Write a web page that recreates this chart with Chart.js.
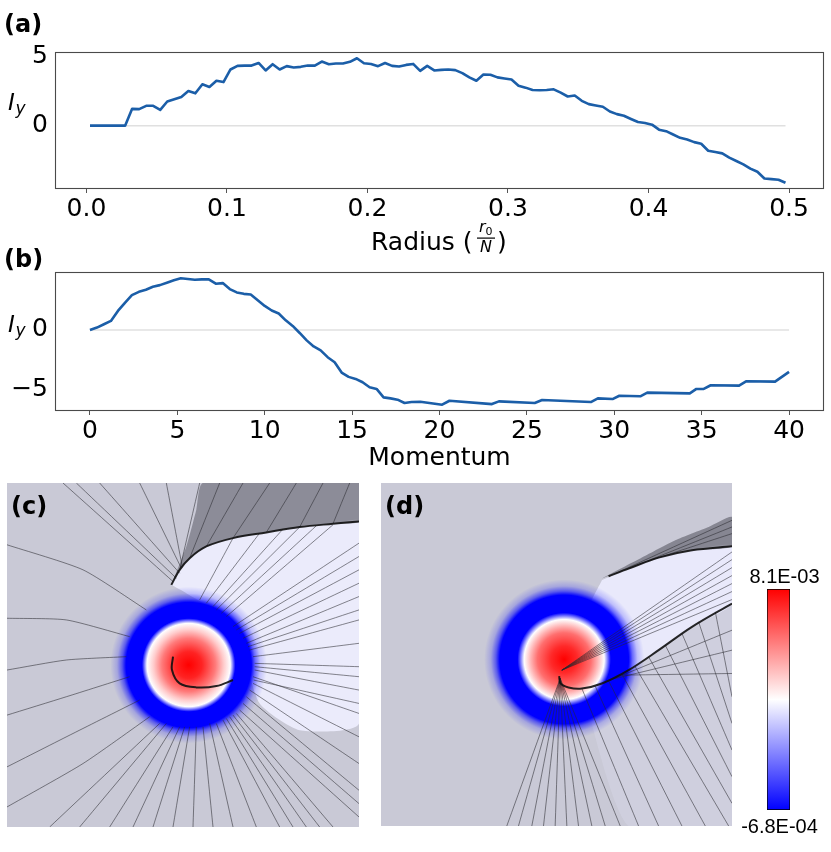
<!DOCTYPE html>
<html><head><meta charset="utf-8">
<script src="https://cdn.jsdelivr.net/npm/chart.js@4.4.1/dist/chart.umd.min.js"></script>
<style>
html,body{margin:0;padding:0;background:#fff;width:831px;height:852px;overflow:hidden;}
canvas{position:absolute;display:block;}
</style></head><body>
<canvas id="ca" width="831" height="262" style="left:0;top:0"></canvas>
<canvas id="cb" width="831" height="244" style="left:0;top:236px"></canvas>
<canvas id="cc" width="352" height="344" style="left:7px;top:483px"></canvas>
<canvas id="cd" width="351" height="343" style="left:381px;top:483px"></canvas>
<canvas id="ce" width="101" height="305" style="left:730px;top:540px"></canvas>
<script>
// ---------- panel (a): I_y vs radius ----------
const radiusX = [0.0025,0.0275,0.0325,0.0375,0.0425,0.0475,0.0525,0.0575,0.0625,0.0675,0.0725,0.0775,0.0825,0.0875,0.0925,0.0975,
0.1025,0.1075,0.1125,0.1175,0.1225,0.1275,0.1325,0.1375,0.1425,0.1475,0.1525,0.1575,0.1625,0.1675,0.1725,0.1775,0.1825,0.1875,0.1925,0.1975,
0.2025,0.2075,0.2125,0.2175,0.2225,0.2275,0.2325,0.2375,0.2425,0.2475,0.2525,0.2575,0.2625,0.2675,0.2725,0.2775,0.2825,0.2875,0.2925,0.2975,
0.3025,0.3075,0.3125,0.3175,0.3225,0.3275,0.3325,0.3375,0.3425,0.3475,0.3525,0.3575,0.3625,0.3675,0.3725,0.3775,0.3825,0.3875,0.3925,0.3975,
0.4025,0.4075,0.4125,0.4175,0.4225,0.4275,0.4325,0.4375,0.4425,0.4475,0.4525,0.4575,0.4625,0.4675,0.4725,0.4775,0.4825,0.4875,0.4925,0.4975];
const iyRadius = [0,0,1.21,1.19,1.43,1.43,1.14,1.74,1.9,2.07,2.5,2.33,2.98,2.79,3.24,3.14,
4.05,4.31,4.33,4.33,4.52,3.98,4.43,4.05,4.29,4.19,4.24,4.33,4.33,4.62,4.43,4.48,4.48,4.6,4.86,4.5,
4.45,4.29,4.52,4.31,4.26,4.38,4.45,3.95,4.31,3.98,4.02,4.05,4.0,3.79,3.48,3.24,3.69,3.67,3.48,3.4,
3.33,2.88,2.74,2.57,2.55,2.57,2.62,2.38,2.1,2.17,1.79,1.55,1.45,1.36,1.02,0.83,0.71,0.48,0.26,0.19,
0.07,-0.29,-0.4,-0.64,-0.88,-1.0,-1.19,-1.31,-1.81,-1.9,-2.0,-2.31,-2.55,-2.79,-3.1,-3.33,-3.81,-3.86,-3.9,-4.12];
const radiusTicks = [0,0.1,0.2,0.3,0.4,0.5];
const iyTicksA = [0,5];

// ---------- panel (b): I_y vs momentum ----------
const momentumX = [0,0.4,0.8,1.2,1.6,2.0,2.4,2.8,3.2,3.6,4.0,4.4,4.8,5.2,5.6,6.0,6.4,6.8,7.2,7.6,8.0,8.4,8.8,9.2,9.6,10.0,
10.4,10.8,11.2,11.6,12.0,12.4,12.8,13.2,13.6,14.0,14.4,14.8,15.2,15.6,16.0,16.4,16.8,17.2,17.6,18.0,18.4,18.9,
20.15,20.57,23.0,23.4,25.45,25.87,28.66,29.06,29.9,30.29,31.49,31.89,34.32,34.7,35.12,35.52,37.14,37.54,39.2,40.0];
const iyMomentum = [0,0.2,0.48,0.76,1.6,2.28,2.92,3.2,3.37,3.62,3.76,3.96,4.16,4.33,4.27,4.21,4.24,4.24,3.88,3.93,3.43,3.15,3.03,2.98,2.5,2.02,
1.63,1.38,0.81,0.34,-0.25,-0.87,-1.38,-1.71,-2.28,-2.7,-3.57,-3.93,-4.1,-4.38,-4.8,-4.94,-5.65,-5.73,-5.84,-6.12,-6.04,-6.02,
-6.26,-5.93,-6.21,-5.98,-6.12,-5.87,-6.04,-5.73,-5.79,-5.51,-5.56,-5.25,-5.31,-4.94,-4.94,-4.63,-4.66,-4.3,-4.33,-3.51];
const momentumTicks = [0,5,10,15,20,25,30,35,40];
const iyTicksB = [-5,0];

// ---------- panels (c),(d): field maps, coordinates in image pixels of each panel ----------
const vortexCenterC = [567,585];
const vortexRadiiC  = [0,40,80,105,125,140,188,200,215,235];
const vortexValuesC = [8.1e-3,7.5e-3,6.0e-3,4.6e-3,3.7e-3,-6.8e-4,-6.8e-4,-6.8e-4,-6.8e-4,-6.8e-4];
const vortexAlphaC  = [1,1,1,1,1,1,1,0.55,0.18,0];
const lightRegionC = [[515,345],[540,300],[570,265],[620,230],[700,205],[800,188],[900,172],[1000,162],[1078,155],[1078,760],[900,780],[780,700],[720,520],[640,420],[560,370],[515,345]];
const darkRegionC = [[515,345],[540,300],[570,265],[620,230],[700,205],[800,188],[900,172],[1000,162],[1078,155],[1078,40],[610,40],[590,120],[560,230],[515,345]];
const causticC = [[515,345],[540,300],[570,265],[620,230],[700,205],[800,188],[900,172],[1000,162],[1078,155]];
const spiralC = [[520,560],[517,600],[540,640],[590,652],[650,648],[700,630]];
const raysC = [
 [[190,40],[520,335]],[[230,40],[530,325]],[[300,40],[540,310]],[[420,40],[545,295]],[[500,40],[548,292]],
 [[22,225],[250,300],[440,420]],[[22,445],[200,450],[390,500]],[[22,600],[200,570],[380,560]],[[22,735],[200,680],[390,620]],
 [[22,890],[220,790],[420,690]],[[22,1010],[250,880],[450,740]],
 [[150,1070],[480,760]],[[240,1070],[500,760]],[[330,1070],[520,770]],[[400,1070],[540,770]],[[460,1070],[555,770]],
 [[520,1070],[570,770]],[[580,1070],[590,770]],[[640,1070],[610,770]],[[700,1070],[630,760]],[[770,1070],[650,760]],
 [[840,1070],[670,750]],[[880,1070],[680,745]],[[920,1070],[690,740]],[[960,1070],[700,735]],[[1000,1070],[710,730]],[[1078,1040],[720,720]],
 [[1078,1000],[730,700]],[[1078,960],[740,680]],[[1078,880],[750,660]],[[1078,800],[760,640]],[[1078,730],[760,620]],[[1078,700],[762,630]],
 [[1078,660],[765,600]],[[1078,620],[765,590]],[[1078,590],[765,580]],[[1078,520],[760,560]],[[1078,450],[750,540]],[[1078,420],[745,530]],
 [[1078,380],[740,520]],[[1078,340],[730,505]],[[1078,300],[720,490]],[[1078,260],[710,480]],[[1078,220],[700,470]],
 [[1000,165],[680,440]],[[950,168],[665,430]],[[900,172],[650,420]],[[850,178],[640,410]],[[780,190],[620,400]],[[700,205],[600,390]],
 [[540,300],[600,40]],[[570,265],[660,40]],[[620,230],[730,40]],[[700,205],[810,40]],[[800,188],[890,40]],[[900,172],[970,40]],[[1000,162],[1050,40]]
];

const vortexCenterD = [567,568];
const vortexRadiiD  = [0,40,80,100,120,140,193,205,220,240];
const vortexValuesD = [8.1e-3,7.4e-3,6.2e-3,5.0e-3,3.7e-3,-6.8e-4,-6.8e-4,-6.8e-4,-6.8e-4,-6.8e-4];
const vortexAlphaD  = [1,1,1,1,1,1,1,0.55,0.18,0];
const lightRegionD = [[680,330],[760,295],[850,262],[950,240],[1070,228],[1070,400],[950,470],[850,540],[760,600],[690,560],[640,420],[680,330]];
const fanRegionD = [[620,655],[760,600],[850,540],[950,470],[1070,400],[1070,1068],[760,1068],[620,655]];
const darkRegionD = [[680,325],[800,262],[900,210],[1000,170],[1070,140],[1070,228],[950,240],[850,262],[760,295],[680,325]];
const causticUpperD = [[700,318],[760,295],[850,262],[950,240],[1070,228]];
const causticLowerD = [[552,618],[556,640],[580,652],[620,655],[680,640],[760,600],[850,540],[950,470],[1070,400]];
const raysD = [
 [[560,600],[1070,245]],[[560,600],[1070,268]],[[560,600],[1070,292]],[[560,600],[1070,316]],[[560,600],[1070,340]],[[560,600],[1070,364]],[[560,600],[1070,388]],
 [[720,310],[1070,150]],[[760,295],[1070,170]],[[820,272],[1070,190]],
 [[555,625],[395,1068]],[[555,625],[430,1068]],[[555,625],[470,1068]],[[555,625],[505,1068]],[[555,625],[540,1068]],
 [[555,625],[575,1068]],[[555,625],[610,1068]],[[555,625],[650,1068]],[[555,625],[690,1068]],[[555,625],[735,1068]],
 [[620,655],[790,1068]],[[660,648],[850,1068]],[[700,632],[920,1068]],[[740,612],[990,1068]],[[780,590],[1060,1068]],
 [[820,560],[1070,1000]],[[870,525],[1070,920]],[[920,490],[1070,840]],[[970,455],[1070,760]],[[1020,425],[1070,680]],
 [[700,632],[1070,480]],[[720,625],[1070,540]],[[740,615],[1070,610]]
];

// ---------- colour bar ----------
const colorRange = [-6.8e-4, 8.1e-3];
const colorLabels = ['8.1E-03','-6.8E-04'];

// ================= helpers =================
Chart.defaults.font.family = '"DejaVu Sans"';
Chart.defaults.color = '#000';

function bwr(v){
  const t = Math.max(0, Math.min(1, (v - colorRange[0]) / (colorRange[1] - colorRange[0])));
  let r,g,b;
  if (t < 0.5){ r = g = Math.round(510*t); b = 255; } else { r = 255; g = b = Math.round(510*(1-t)); }
  return [r,g,b];
}

const framePlugin = { id:'frame', afterDatasetsDraw(ch){
  const a = ch.chartArea, c = ch.ctx; c.save(); c.strokeStyle = '#4a4a4a'; c.lineWidth = 1.1;
  c.strokeRect(Math.round(a.left)+0.5, Math.round(a.top)+0.5, Math.round(a.right-a.left)-1, Math.round(a.bottom-a.top)-1); c.restore(); } };

function drawIy(c, x, y){
  c.font = 'italic 23px "DejaVu Sans"'; c.textAlign = 'left'; c.fillText('I', x, y);
  c.font = 'italic 17px "DejaVu Sans"'; c.fillText('y', x + 7.5, y + 4);
}

function lineChart(id, o){
  const pts = o.xs.map((x,i)=>({x, y:o.ys[i]}));
  const zero = [{x:o.xs[0], y:0},{x:o.xs[o.xs.length-1], y:0}];
  return new Chart(document.getElementById(id), {
    type:'scatter',
    data:{ datasets:[
      { data:pts, showLine:true, borderColor:'#1b5ea8', borderWidth:2.6, pointRadius:0, tension:0, order:0, borderJoinStyle:'round' },
      { data:zero, showLine:true, borderColor:'#e0e0e0', borderWidth:1.5, pointRadius:0, order:1 }
    ]},
    options:{
      responsive:false, animation:false, events:[],
      layout:{ padding:{ top:o.top, right:7, left:0, bottom:0 } },
      plugins:{ legend:{display:false}, tooltip:{enabled:false} },
      scales:{
        x:{ type:'linear', min:o.xmin, max:o.xmax,
            afterBuildTicks:s=>{ s.ticks = o.xticks.map(v=>({value:v})); },
            afterFit:s=>{ s.height = o.xAxisH; },
            grid:{ display:true, drawOnChartArea:false, drawTicks:true, tickLength:4, color:'#555', lineWidth:1 },
            border:{ display:false },
            ticks:{ font:{size:25}, color:'#000', padding:1, maxRotation:0, autoSkip:false, callback:o.xfmt } },
        y:{ type:'linear', min:o.ymin, max:o.ymax,
            afterBuildTicks:s=>{ s.ticks = o.yticks.map(v=>({value:v})); },
            afterFit:s=>{ s.width = 55; },
            grid:{ display:false, drawTicks:false, tickLength:0 },
            border:{ display:false },
            ticks:{ font:{size:25}, color:'#000', padding:7, callback:v=> v<0 ? '\u2212'+Math.abs(v) : String(v) } }
      }
    },
    plugins:[framePlugin, o.text]
  });
}

lineChart('ca', { xs:radiusX, ys:iyRadius, xmin:-0.0224, xmax:0.5249, ymin:-4.57, ymax:5.31, top:52, xAxisH:73,
  xticks:radiusTicks, yticks:iyTicksA, xfmt:v=>v.toFixed(1),
  text:{ id:'textA', afterDraw(ch){ const c = ch.ctx; c.save(); c.fillStyle = '#000'; c.textBaseline = 'alphabetic';
    c.font = 'bold 24px "DejaVu Sans"'; c.textAlign = 'left'; c.fillText('(a)', 4, 32);
    drawIy(c, 8, 110);
    c.font = '25px "DejaVu Sans"'; c.textAlign = 'left'; c.fillText('Radius (', 371, 250);
    c.font = 'italic 16px "DejaVu Sans"'; c.fillText('r', 479, 232);
    c.font = '11px "DejaVu Sans"'; c.fillText('0', 485.5, 235);
    c.fillRect(477, 237.5, 18, 1.2);
    c.font = 'italic 16px "DejaVu Sans"'; c.textAlign = 'center'; c.fillText('N', 486, 252);
    c.font = '25px "DejaVu Sans"'; c.textAlign = 'left'; c.fillText(')', 497, 250);
    c.restore(); } } });

lineChart('cb', { xs:momentumX, ys:iyMomentum, xmin:-2, xmax:42, ymin:-6.79, ymax:4.86, top:36, xAxisH:69,
  xticks:momentumTicks, yticks:iyTicksB, xfmt:v=>String(v),
  text:{ id:'textB', afterDraw(ch){ const c = ch.ctx; c.save(); c.fillStyle = '#000'; c.textBaseline = 'alphabetic';
    c.font = 'bold 24px "DejaVu Sans"'; c.textAlign = 'left'; c.fillText('(b)', 4, 31);
    drawIy(c, 8, 96);
    c.font = '25px "DejaVu Sans"'; c.textAlign = 'center'; c.fillText('Momentum', 439.5, 229);
    c.restore(); } } });

function fieldChart(id, f){
  const toPts = arr => arr.map(p=>({x:p[0], y:p[1]}));
  const ds = [];
  f.regions.forEach((r,i)=> ds.push({ data:toPts(r.pts), showLine:true, fill:'shape', backgroundColor:r.color,
     borderColor:'rgba(0,0,0,0)', borderWidth:0, pointRadius:0, tension:0.2, order:100-i }));
  const outer = f.radii[f.radii.length-1];
  ds.push({ data:[{x:f.center[0], y:f.center[1]}], order:50, borderWidth:0, pointStyle:'circle',
    pointRadius:c=>{ const xs = c.chart.scales.x; return Math.abs(xs.getPixelForValue(f.center[0]+outer) - xs.getPixelForValue(f.center[0])); },
    backgroundColor:c=>{
      const ch = c.chart; if (!ch.chartArea || !ch.scales.x) return 'rgba(0,0,0,0)';
      const xs = ch.scales.x, ys = ch.scales.y;
      const px = xs.getPixelForValue(f.center[0]), py = ys.getPixelForValue(f.center[1]);
      const R = Math.abs(xs.getPixelForValue(f.center[0]+outer) - px);
      const g = ch.ctx.createRadialGradient(px, py, 0, px, py, R);
      f.radii.forEach((r,i)=>{ const [cr,cg,cb] = bwr(f.values[i]);
        g.addColorStop(r/outer, `rgba(${cr},${cg},${cb},${f.alpha[i]})`); });
      return g; } });
  f.rays.forEach(r=> ds.push({ data:toPts(r), showLine:true, borderColor:'rgba(40,40,45,0.55)', borderWidth:1, pointRadius:0, tension:0.2, order:10 }));
  f.curves.forEach(cv=> ds.push({ data:toPts(cv), showLine:true, borderColor:'rgba(15,15,15,0.9)', borderWidth:2, pointRadius:0, tension:0.35, order:1 }));
  return new Chart(document.getElementById(id), {
    type:'scatter', data:{ datasets:ds },
    options:{ responsive:false, animation:false, events:[],
      layout:{ padding:0 },
      plugins:{ legend:{display:false}, tooltip:{enabled:false} },
      scales:{ x:{ type:'linear', min:f.xr[0], max:f.xr[1], display:false },
               y:{ type:'linear', min:f.yr[0], max:f.yr[1], reverse:true, display:false } } },
    plugins:[{ id:'bg'+id, beforeDraw(ch){ const c = ch.ctx; c.save(); c.fillStyle = '#c9c9d6'; c.fillRect(0,0,ch.width,ch.height); c.restore(); },
               afterDraw(ch){ const c = ch.ctx; c.save(); c.fillStyle = '#000'; c.font = 'bold 24px "DejaVu Sans"'; c.textAlign = 'left';
                 c.textBaseline = 'alphabetic'; c.fillText(f.label, 4, 31); c.restore(); } }]
  });
}

fieldChart('cc', { label:'(c)', xr:[22,1078], yr:[40,1070], center:vortexCenterC, radii:vortexRadiiC, values:vortexValuesC, alpha:vortexAlphaC,
  regions:[ {pts:lightRegionC, color:'rgba(238,238,255,0.9)'}, {pts:darkRegionC, color:'rgba(100,100,110,0.6)'} ],
  rays:raysC, curves:[causticC, spiralC] });

fieldChart('cd', { label:'(d)', xr:[18,1070], yr:[38,1068], center:vortexCenterD, radii:vortexRadiiD, values:vortexValuesD, alpha:vortexAlphaD,
  regions:[ {pts:fanRegionD, color:'rgba(222,222,242,0.3)'}, {pts:lightRegionD, color:'rgba(236,236,255,0.9)'}, {pts:darkRegionD, color:'rgba(90,90,100,0.6)'} ],
  rays:raysD, curves:[causticUpperD, causticLowerD] });

// colour bar
new Chart(document.getElementById('ce'), {
  type:'bar',
  data:{ labels:[''], datasets:[{ data:[[colorRange[0], colorRange[1]]], borderColor:'#000', borderWidth:1, borderSkipped:false,
    barPercentage:1, categoryPercentage:1,
    backgroundColor:c=>{ const ch = c.chart, a = ch.chartArea; if (!a) return '#fff';
      const g = ch.ctx.createLinearGradient(0, a.bottom, 0, a.top);
      [0,0.25,0.5,0.75,1].forEach(t=>{ const [r,gg,b] = bwr(colorRange[0] + t*(colorRange[1]-colorRange[0])); g.addColorStop(t, `rgb(${r},${gg},${b})`); });
      return g; } }] },
  options:{ responsive:false, animation:false, events:[],
    layout:{ padding:{ left:37, right:41, top:49, bottom:35 } },
    plugins:{ legend:{display:false}, tooltip:{enabled:false} },
    scales:{ x:{ display:false }, y:{ display:false, min:colorRange[0], max:colorRange[1] } } },
  plugins:[{ id:'cbLabels', afterDraw(ch){ const c = ch.ctx; c.save(); c.fillStyle = '#000'; c.font = '20px "Liberation Sans"';
    c.textAlign = 'center'; c.textBaseline = 'alphabetic';
    c.fillText(colorLabels[0], 54.5, 43); c.fillText(colorLabels[1], 49.5, 293); c.restore(); } }]
});
</script>
</body></html>
